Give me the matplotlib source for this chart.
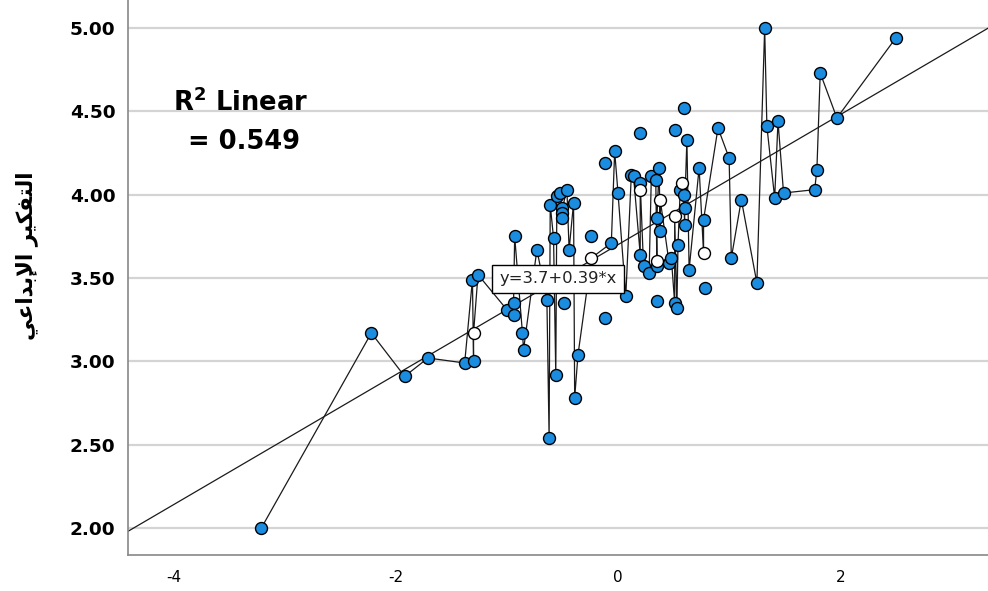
import matplotlib
matplotlib.use("Agg")
import matplotlib.pyplot as plt
import numpy as np

# ---- data ----
# filled points joined by the interpolation line
x_conn = [-3.21, -2.22, -1.92, -1.71, -1.38, -1.30, -1.31, -1.26, -1.00, -0.94,
          -0.94, -0.93, -0.86, -0.85, -0.73, -0.64, -0.62, -0.61, -0.58, -0.56,
          -0.55, -0.52, -0.50, -0.50, -0.50, -0.46, -0.44, -0.40, -0.39, -0.36,
          -0.06, -0.03, 0.00, 0.07, 0.12, 0.14, 0.20, 0.20, 0.23, 0.28,
          0.30, 0.34, 0.37, 0.35, 0.38, 0.35, 0.46, 0.48, 0.51, 0.53,
          0.54, 0.56, 0.59, 0.60, 0.60, 0.62, 0.64, 0.73, 0.77, 0.90,
          1.00, 1.02, 1.11, 1.25, 1.32, 1.34, 1.41, 1.44, 1.49, 1.77,
          1.79, 1.82, 1.97, 2.50]
y_conn = [2.00, 3.17, 2.91, 3.02, 2.99, 3.00, 3.49, 3.52, 3.31, 3.35,
          3.28, 3.75, 3.17, 3.07, 3.67, 3.37, 2.54, 3.94, 3.74, 2.92,
          3.99, 4.01, 3.92, 3.89, 3.86, 4.03, 3.67, 3.95, 2.78, 3.04,
          3.71, 4.26, 4.01, 3.39, 4.12, 4.11, 4.07, 3.64, 3.57, 3.53,
          4.11, 4.09, 4.16, 3.86, 3.78, 3.57, 3.59, 3.62, 3.35, 3.32,
          3.70, 4.03, 4.00, 3.92, 3.82, 4.33, 3.55, 4.16, 3.85, 4.40,
          4.22, 3.62, 3.97, 3.47, 5.00, 4.41, 3.98, 4.44, 4.01, 4.03,
          4.15, 4.73, 4.46, 4.94]
# hollow markers (also on the interpolation line)
x_open = [-1.30, -0.24, 0.20, 0.38, 0.35, 0.51, 0.58, 0.77]
y_open = [3.17, 3.62, 4.03, 3.97, 3.60, 3.87, 4.07, 3.65]
# filled points not on the line
x_free = [-0.49, -0.24, -0.12, -0.12, 0.20, 0.35, 0.51, 0.59, 0.78]
y_free = [3.35, 3.75, 4.19, 3.26, 4.37, 3.36, 4.39, 4.52, 3.44]

intercept = 3.7
slope = 0.39
r2 = 0.549
y_ticks = [2.0, 2.5, 3.0, 3.5, 4.0, 4.5, 5.0]
x_ticks = [-4, -2, 0, 2]
y_label = "\uFEF2\uFECB\uFE8D\uFEAA\uFE91\uFEF9\uFE8D \uFEAE\uFEF4\uFEDC\uFED4\uFE98\uFEDF\uFE8D"  # التفكير الإبداعي (shaped, visual order)

# ---- figure ----
fig = plt.figure(figsize=(9.88, 5.91), dpi=100)
ax = fig.add_axes([128 / 988, 36 / 591, 1 - 128 / 988, 1 - 36 / 591])
ax.set_xlim(-4.41, 3.33)
ax.set_ylim(1.838, 5.168)

for yt in y_ticks:
    ax.axhline(yt, color="#d4d4d4", lw=1.6, zorder=0)

# interpolation line through connected + hollow points, sorted by x
lx = np.array(x_conn + x_open)
ly = np.array(y_conn + y_open)
order = np.lexsort((ly, lx))
ax.plot(lx[order], ly[order], color="#1a1a1a", lw=0.9, zorder=2)

# regression line
ax.axline((0, intercept), slope=slope, color="#1a1a1a", lw=0.9, zorder=2)

blue = "#1b8de0"
ax.plot(x_conn, y_conn, "o", ms=8.6, mfc=blue, mec="black", mew=1.0, zorder=3)
ax.plot(x_free, y_free, "o", ms=8.6, mfc=blue, mec="black", mew=1.0, zorder=3)
ax.plot(x_open, y_open, "o", ms=8.6, mfc="white", mec="black", mew=1.0, zorder=3)

ax.set_yticks(y_ticks)
ax.set_yticklabels([f"{v:.2f}" for v in y_ticks], fontweight="bold",
                   fontsize=13.3, family="DejaVu Sans")
ax.set_xticks(x_ticks)
ax.set_xticklabels([str(v) for v in x_ticks], fontsize=11, family="DejaVu Sans")
ax.tick_params(axis="y", length=0, pad=9)
ax.tick_params(axis="x", length=0, pad=11)

for s in ["top", "right"]:
    ax.spines[s].set_visible(False)
for s in ["left", "bottom"]:
    ax.spines[s].set_color("#888888")
    ax.spines[s].set_linewidth(1.2)

fig.text(27 / 988, 1 - 256 / 591, y_label, rotation=90, ha="center", va="center",
         fontsize=15.5, fontweight="bold", family=["DejaVu Sans"])

# R^2 annotation
ax.text(-3.40, 4.504, r"R$^{\mathbf{2}}$ Linear", ha="center", va="baseline",
        fontsize=18.5, fontweight="bold", family="DejaVu Sans", zorder=5)
ax.text(-3.37, 4.274, f"= {r2:.3f}", ha="center", va="baseline",
        fontsize=18.5, fontweight="bold", family="DejaVu Sans", zorder=5)

# equation box
ax.text(-0.54, 3.494, f"y={intercept}+{slope}*x", ha="center", va="center",
        fontsize=11.8, family="DejaVu Sans", color="#222222", zorder=6,
        bbox=dict(boxstyle="square,pad=0.42", fc="white", ec="black", lw=1.0))

fig.savefig("out.png", dpi=100)
